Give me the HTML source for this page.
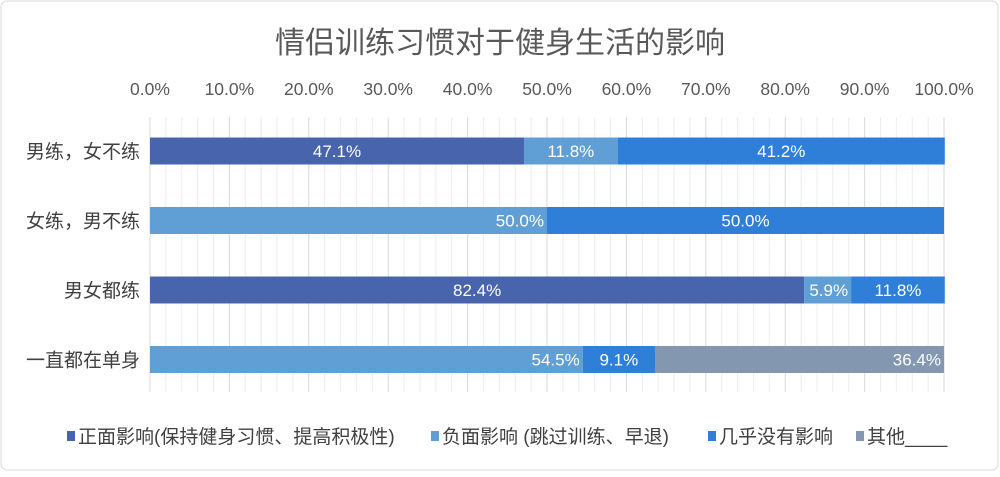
<!DOCTYPE html>
<html><head><meta charset="utf-8"><style>
body{margin:0;background:#fff;font-family:"Liberation Sans","Noto Sans CJK SC",sans-serif}
</style></head><body>
<svg id="c" width="1000" height="472" xmlns="http://www.w3.org/2000/svg" font-family="Liberation Sans, Noto Sans CJK SC, sans-serif">
<rect x="1" y="1" width="997" height="469" rx="6" fill="#fff" stroke="#d9d9d9"/>
<text x="500" y="53" text-anchor="middle" font-size="30" fill="#595959">情侣训练习惯对于健身生活的影响</text>
<g id="grid"></g><g id="ticks"></g><g id="bars"></g><g id="cats"></g><g id="legend"></g>
</svg>
<script>
const categories=["男练，女不练","女练，男不练","男女都练","一直都在单身"];
const seriesNames=["正面影响(保持健身习惯、提高积极性)","负面影响 (跳过训练、早退)","几乎没有影响","其他____"];
const positive=[47.1,0,82.4,0];
const negative=[11.8,50.0,5.9,54.5];
const noEffect=[41.2,50.0,11.8,9.1];
const other=[0,0,0,36.4];
const tickLabels=["0.0%","10.0%","20.0%","30.0%","40.0%","50.0%","60.0%","70.0%","80.0%","90.0%","100.0%"];
const colors=["#4864ad","#609fd6","#2f7fd9","#8497b0"];
const series=[positive,negative,noEffect,other];
const NS="http://www.w3.org/2000/svg";
const x0=150,x1=944;const X=v=>x0+(x1-x0)*v/100;
const rowY=i=>151+i*69.5;
function mk(t,a,p){const e=document.createElementNS(NS,t);for(const k in a)e.setAttribute(k,a[k]);p.appendChild(e);return e;}
const grid=document.getElementById('grid');
for(let v=0;v<=100;v+=2){const l=mk('line',{x1:X(v),x2:X(v),y1:117,y2:392,stroke:v%10==0?'#d9d9d9':'#ededed','stroke-width':1},grid);

}
const tk=document.getElementById('ticks');
tickLabels.forEach((s,i)=>{const t=mk('text',{x:X(i*10),y:95,'text-anchor':'middle','font-size':17.5,fill:'#595959'},tk);t.textContent=s;

});
const cg=document.getElementById('cats');
categories.forEach((c,i)=>{const t=mk('text',{x:140,y:rowY(i)+7,'text-anchor':'end','font-size':19,fill:'#404040'},cg);t.textContent=c;

});
const bg=document.getElementById('bars');
categories.forEach((c,i)=>{let acc=0;series.forEach((s,j)=>{const v=s[i];if(!v){return;}
const r=mk('rect',{x:X(acc),y:rowY(i)-13.5,width:X(acc+v)-X(acc),height:27,fill:colors[j]},bg);


const endAnchor=(j==1&&i!=0)||j==3;
const t=mk('text',{x:endAnchor?X(acc+v)-3:X(acc+v/2),y:rowY(i)+6,'text-anchor':endAnchor?'end':'middle','font-size':17,fill:'#fff'},bg);
t.textContent=v.toFixed(1)+'%';


acc+=v;});});
const lg=document.getElementById('legend');
const lx=[67,431,708,856];
seriesNames.forEach((n,j)=>{const r=mk('rect',{x:lx[j],y:431,width:8,height:10,fill:colors[j]},lg);


const t=mk('text',{x:lx[j]+11,y:443,'font-size':19,fill:'#404040'},lg);t.textContent=n;

});
</script>
</body></html>
